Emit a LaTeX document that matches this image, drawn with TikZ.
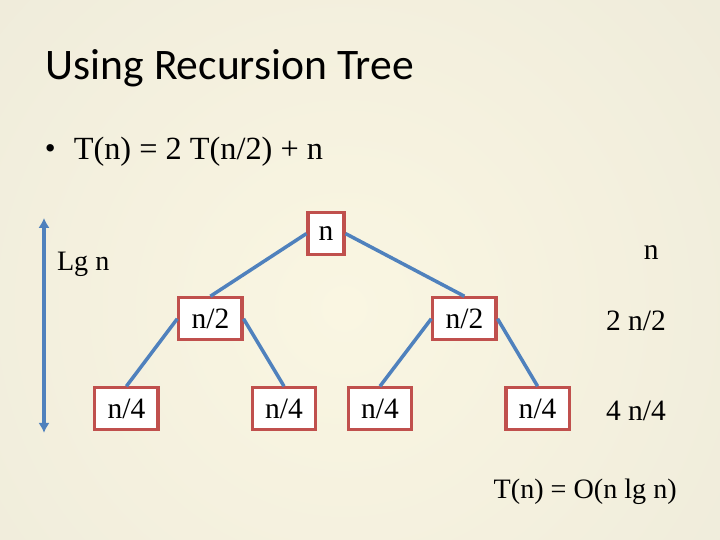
\documentclass[tikz,border=0pt]{standalone}
\usepackage{fontspec}
\setmainfont{Liberation Serif}
\newfontfamily\titlefont{Carlito}
\usepackage{tikz}
\usetikzlibrary{arrows.meta, positioning}
\usepackage{xcolor}
\definecolor{bgin}{RGB}{250,246,226}
\definecolor{bgout}{RGB}{230,227,213}
\definecolor{edgeblue}{RGB}{79,129,189}
\definecolor{boxred}{RGB}{192,80,77}

\begin{document}
\begin{tikzpicture}[
    box/.style={draw=boxred, line width=2.2pt, fill=white, minimum width=1.58cm,
      minimum height=1.05cm, inner sep=2pt, font=\fontsize{21}{24}\selectfont},
    edge/.style={edgeblue, line width=2.5pt},
    lbl/.style={font=\fontsize{21}{24}\selectfont}
  ]
  \begin{scope}
    \clip (0,0) rectangle (18,13.5);
    \fill[bgout] (0,0) rectangle (18,13.5);
    \shade[inner color=bgin, outer color=bgout] (8.6,5.8) circle (22);
  \end{scope}
  \useasboundingbox (0,0) rectangle (18,13.5);

  \node[anchor=west, font=\titlefont\fontsize{31}{36}\selectfont] (title) at (1.02,11.8) {Using Recursion Tree};
  \node[anchor=west, font=\fontsize{22}{26}\selectfont] (dot) at (1.0,9.72) {\textbullet};
  \node[anchor=west, font=\fontsize{23}{26}\selectfont] (rec) at (1.72,9.7) {T(n) = 2 T(n/2) + n};

  % tree
  \node[box, minimum width=0.9cm] (root) at (8.15,7.66) {n};
  \node[box] (n2a) at (5.26,5.53) {n/2};
  \node[box] (n2b) at (11.61,5.53) {n/2};
  \node[box] (n4a) at (3.16,3.28) {n/4};
  \node[box] (n4b) at (7.10,3.28) {n/4};
  \node[box] (n4c) at (9.50,3.28) {n/4};
  \node[box] (n4d) at (13.44,3.28) {n/4};
  \draw[edge] (root.west) -- (n2a.north);
  \draw[edge] (root.east) -- (n2b.north);
  \draw[edge] (n2a.west) -- (n4a.north);
  \draw[edge] (n2a.east) -- (n4b.north);
  \draw[edge] (n2b.west) -- (n4c.north);
  \draw[edge] (n2b.east) -- (n4d.north);

  % level sums
  \node[lbl] (sum0) at (16.28,7.18) {n};
  \node[lbl] (sum1) at (15.9,5.48) {2 n/2};
  \node[lbl] (sum2) at (15.9,3.23) {4 n/4};

  % height
  \coordinate (htop) at (1.1,8.05);
  \coordinate (hbot) at (1.1,2.68);
  \draw[edgeblue, line width=2.8pt, {Latex[length=7pt,width=8pt]}-{Latex[length=7pt,width=8pt]}] (htop) -- (hbot);
  \node[font=\fontsize{20}{24}\selectfont] (lgn) at (2.08,6.88) {Lg n};

  \node[font=\fontsize{20}{24}\selectfont] (res) at (14.63,1.2) {T(n) = O(n lg n)};
\end{tikzpicture}
\end{document}
